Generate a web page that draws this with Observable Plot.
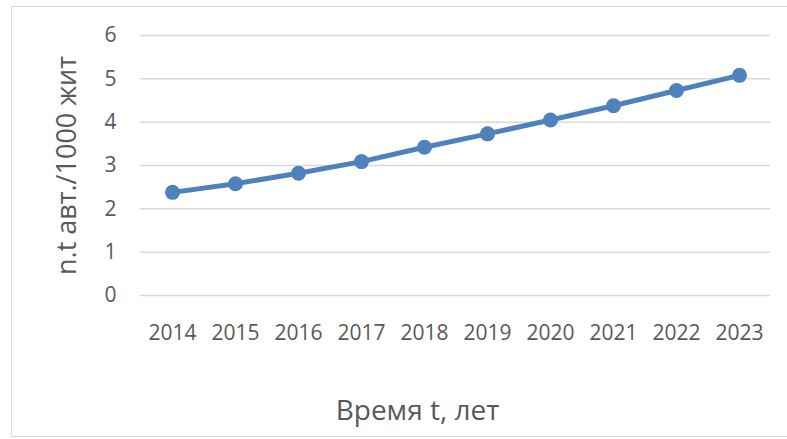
<!DOCTYPE html>
<html>
<head>
<meta charset="utf-8">
<script src="https://cdn.jsdelivr.net/npm/d3@7"></script>
<script src="https://cdn.jsdelivr.net/npm/@observablehq/plot@0.6"></script>
<style>
  html, body { margin: 0; padding: 0; background: #fff; }
  #wrap { position: relative; width: 787px; height: 439px; overflow: hidden; }
  #border { position: absolute; left: 11px; top: 6px; width: 800px; height: 431px;
            border: 1.5px solid #d9d9d9; box-sizing: border-box; }
  #chart { position: absolute; left: 0; top: 0; }
</style>
</head>
<body>
<div id="wrap"><div id="border"></div><div id="chart"></div></div>
<script>
const years = ["2014","2015","2016","2017","2018","2019","2020","2021","2022","2023"];
const values = [2.38, 2.58, 2.82, 3.09, 3.42, 3.73, 4.05, 4.38, 4.73, 5.08];
const yTicks = [0, 1, 2, 3, 4, 5, 6];
const yLabel = "n.t авт./1000 жит";
const xLabel = "Время t, лет";

const data = years.map((y, i) => ({year: y, value: values[i]}));
const font = "'Open Sans', sans-serif";

const chart = Plot.plot({
  width: 787,
  height: 439,
  marginTop: 35,
  marginBottom: 144,
  marginLeft: 140,
  marginRight: 17,
  style: {fontFamily: font, fontSize: "21px", color: "#595959", background: "transparent"},
  x: {type: "point", domain: years, padding: 0.5, label: null},
  y: {domain: [0, 6], label: null},
  marks: [
    Plot.gridY(yTicks, {stroke: "#d9d9d9", strokeOpacity: 1, strokeWidth: 1.5}),
    Plot.axisY(yTicks, {tickSize: 0, tickPadding: 24, label: null, fill: "#595959", fontSize: 21}),
    Plot.axisX(years, {tickSize: 0, tickPadding: 30, label: null, fill: "#595959", fontSize: 21}),
    Plot.line(data, {x: "year", y: "value", stroke: "#4f81bd", strokeWidth: 5}),
    Plot.dot(data, {x: "year", y: "value", r: 7.5, fill: "#4f81bd", stroke: "none"}),
    Plot.text([yLabel], {frameAnchor: "left", textAnchor: "middle", lineAnchor: "middle", dx: -73, rotate: -90, fontSize: 27, fill: "#595959", text: d => d}),
    Plot.text([xLabel], {frameAnchor: "bottom", textAnchor: "middle", lineAnchor: "middle", dx: -38, dy: 116, fontSize: 28, fill: "#595959", text: d => d})
  ]
});
document.getElementById("chart").appendChild(chart);
</script>
</body>
</html>
